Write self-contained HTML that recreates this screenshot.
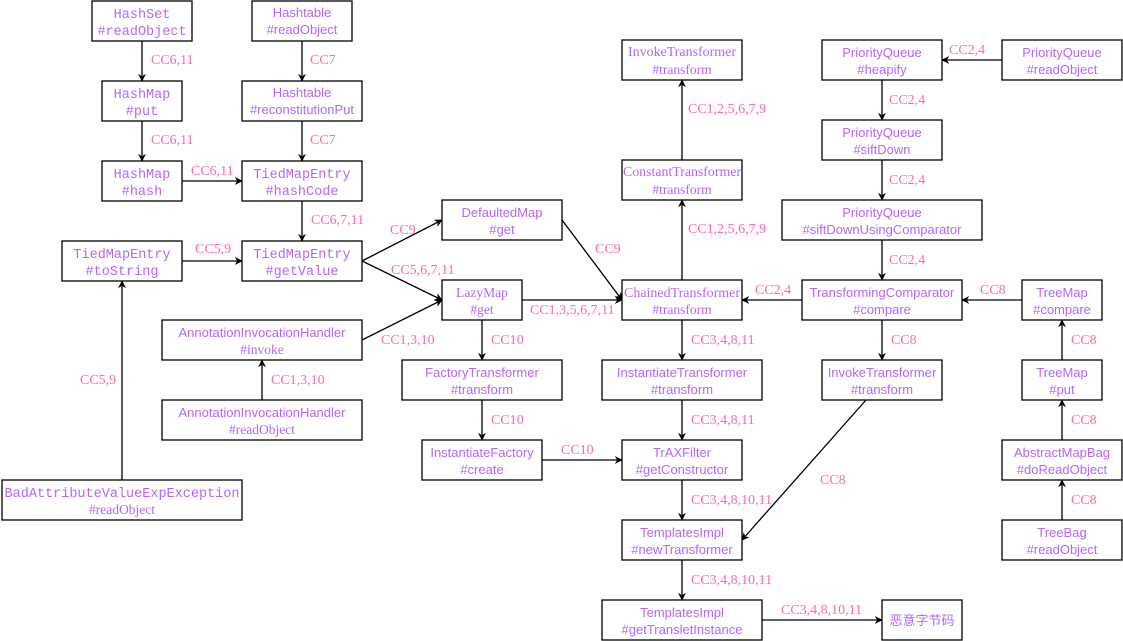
<!DOCTYPE html>
<html><head><meta charset="utf-8"><style>
body{margin:0;background:#fff}
svg{display:block}
.b{fill:#fff;stroke:#000;stroke-width:1.3}
.e{stroke:#000;stroke-width:1.3;fill:none}
.s{font-family:"Liberation Sans",sans-serif;font-size:13px;fill:#B266FF}
.m{font-family:"Liberation Mono",monospace;font-size:13.5px;fill:#B266FF}
.r{font-family:"Liberation Serif",serif;font-size:13.5px;fill:#B266FF}
.l{font-family:"Liberation Serif",serif;font-size:14px;fill:#FF66B3}
</style></head><body>
<svg width="1123" height="641" viewBox="0 0 1123 641" xmlns="http://www.w3.org/2000/svg">
<defs><marker id="a" viewBox="0 0 10 10" refX="9" refY="5" markerWidth="8" markerHeight="8" markerUnits="userSpaceOnUse" orient="auto"><path d="M0,0 L10,5 L0,10 L3,5 z" fill="#000"/></marker></defs>
<g class="e" marker-end="url(#a)">
<line x1="142" y1="41" x2="142" y2="81"/>
<line x1="142" y1="121" x2="142" y2="161"/>
<line x1="302" y1="41" x2="302" y2="81"/>
<line x1="302" y1="121" x2="302" y2="161"/>
<line x1="182" y1="181" x2="242" y2="181"/>
<line x1="302" y1="201" x2="302" y2="241"/>
<line x1="182" y1="261" x2="242" y2="261"/>
<line x1="362" y1="261" x2="442" y2="220"/>
<line x1="362" y1="261" x2="442" y2="300"/>
<line x1="362" y1="340" x2="442" y2="300"/>
<line x1="262" y1="400" x2="262" y2="360"/>
<line x1="122" y1="480" x2="122" y2="281"/>
<line x1="562" y1="220" x2="622" y2="300"/>
<line x1="522" y1="300" x2="622" y2="300"/>
<line x1="482" y1="320" x2="482" y2="360"/>
<line x1="482" y1="400" x2="482" y2="440"/>
<line x1="542" y1="460" x2="622" y2="460"/>
<line x1="682" y1="280" x2="682" y2="200"/>
<line x1="682" y1="160" x2="682" y2="80"/>
<line x1="682" y1="320" x2="682" y2="360"/>
<line x1="682" y1="400" x2="682" y2="440"/>
<line x1="682" y1="480" x2="682" y2="520"/>
<line x1="682" y1="560" x2="682" y2="600"/>
<line x1="762" y1="620" x2="882" y2="620"/>
<line x1="1002" y1="60" x2="942" y2="60"/>
<line x1="882" y1="80" x2="882" y2="120"/>
<line x1="882" y1="160" x2="882" y2="200"/>
<line x1="882" y1="240" x2="882" y2="280"/>
<line x1="802" y1="300" x2="742" y2="300"/>
<line x1="1022" y1="300" x2="962" y2="300"/>
<line x1="882" y1="320" x2="882" y2="360"/>
<line x1="866" y1="400" x2="742" y2="540"/>
<line x1="1062" y1="360" x2="1062" y2="320"/>
<line x1="1062" y1="440" x2="1062" y2="400"/>
<line x1="1062" y1="520" x2="1062" y2="480"/>
</g>
<g>
<rect class="b" x="92" y="1" width="100" height="40"/>
<rect class="b" x="252" y="1" width="100" height="40"/>
<rect class="b" x="102" y="81" width="80" height="40"/>
<rect class="b" x="242" y="81" width="120" height="40"/>
<rect class="b" x="102" y="161" width="80" height="40"/>
<rect class="b" x="242" y="161" width="120" height="40"/>
<rect class="b" x="62" y="241" width="120" height="40"/>
<rect class="b" x="242" y="241" width="120" height="40"/>
<rect class="b" x="442" y="200" width="120" height="40"/>
<rect class="b" x="442" y="280" width="80" height="40"/>
<rect class="b" x="622" y="280" width="120" height="40"/>
<rect class="b" x="402" y="360" width="160" height="40"/>
<rect class="b" x="602" y="360" width="160" height="40"/>
<rect class="b" x="422" y="440" width="120" height="40"/>
<rect class="b" x="622" y="440" width="120" height="40"/>
<rect class="b" x="162" y="320" width="200" height="40"/>
<rect class="b" x="162" y="400" width="200" height="40"/>
<rect class="b" x="2" y="480" width="240" height="40"/>
<rect class="b" x="622" y="40" width="120" height="40"/>
<rect class="b" x="622" y="160" width="120" height="40"/>
<rect class="b" x="822" y="40" width="120" height="40"/>
<rect class="b" x="1002" y="40" width="120" height="40"/>
<rect class="b" x="822" y="120" width="120" height="40"/>
<rect class="b" x="782" y="200" width="200" height="40"/>
<rect class="b" x="802" y="280" width="160" height="40"/>
<rect class="b" x="1022" y="280" width="80" height="40"/>
<rect class="b" x="822" y="360" width="120" height="40"/>
<rect class="b" x="1022" y="360" width="80" height="40"/>
<rect class="b" x="1002" y="440" width="120" height="40"/>
<rect class="b" x="1002" y="520" width="120" height="40"/>
<rect class="b" x="622" y="520" width="120" height="40"/>
<rect class="b" x="602" y="600" width="160" height="40"/>
<rect class="b" x="882" y="600" width="80" height="40"/>
</g>
<g text-anchor="middle">
<text class="m" x="142" y="18">HashSet</text><text class="m" x="142" y="35">#readObject</text>
<text class="s" x="302" y="17">Hashtable</text><text class="s" x="302" y="34">#readObject</text>
<text class="m" x="142" y="98">HashMap</text><text class="m" x="142" y="115">#put</text>
<text class="s" x="302" y="97">Hashtable</text><text class="s" x="302" y="114">#reconstitutionPut</text>
<text class="m" x="142" y="178">HashMap</text><text class="m" x="142" y="195">#hash</text>
<text class="m" x="302" y="178">TiedMapEntry</text><text class="m" x="302" y="195">#hashCode</text>
<text class="m" x="122" y="258">TiedMapEntry</text><text class="m" x="122" y="275">#toString</text>
<text class="m" x="302" y="258">TiedMapEntry</text><text class="m" x="302" y="275">#getValue</text>
<text class="s" x="502" y="217">DefaultedMap</text><text class="s" x="502" y="234">#get</text>
<text class="r" x="482" y="297">LazyMap</text><text class="r" x="482" y="314">#get</text>
<text class="r" x="682" y="297" textLength="116" lengthAdjust="spacingAndGlyphs">ChainedTransformer</text><text class="r" x="682" y="314">#transform</text>
<text class="s" x="482" y="377">FactoryTransformer</text><text class="s" x="482" y="394">#transform</text>
<text class="s" x="682" y="377">InstantiateTransformer</text><text class="s" x="682" y="394">#transform</text>
<text class="s" x="482" y="457">InstantiateFactory</text><text class="s" x="482" y="474">#create</text>
<text class="s" x="682" y="457">TrAXFilter</text><text class="s" x="682" y="474">#getConstructor</text>
<text class="s" x="262" y="337">AnnotationInvocationHandler</text><text class="r" x="262" y="354">#invoke</text>
<text class="s" x="262" y="417">AnnotationInvocationHandler</text><text class="r" x="262" y="434">#readObject</text>
<text class="m" x="122" y="497">BadAttributeValueExpException</text><text class="r" x="122" y="514">#readObject</text>
<text class="r" x="682" y="56" textLength="108" lengthAdjust="spacingAndGlyphs">InvokeTransformer</text><text class="r" x="682" y="74">#transform</text>
<text class="r" x="682" y="176" textLength="118" lengthAdjust="spacingAndGlyphs">ConstantTransformer</text><text class="r" x="682" y="194">#transform</text>
<text class="s" x="882" y="57">PriorityQueue</text><text class="s" x="882" y="74">#heapify</text>
<text class="s" x="1062" y="57">PriorityQueue</text><text class="s" x="1062" y="74">#readObject</text>
<text class="s" x="882" y="137">PriorityQueue</text><text class="s" x="882" y="154">#siftDown</text>
<text class="s" x="882" y="217">PriorityQueue</text><text class="s" x="882" y="234">#siftDownUsingComparator</text>
<text class="s" x="882" y="297">TransformingComparator</text><text class="s" x="882" y="314">#compare</text>
<text class="s" x="1062" y="297">TreeMap</text><text class="s" x="1062" y="314">#compare</text>
<text class="s" x="882" y="377">InvokeTransformer</text><text class="s" x="882" y="394">#transform</text>
<text class="s" x="1062" y="377">TreeMap</text><text class="s" x="1062" y="394">#put</text>
<text class="s" x="1062" y="457">AbstractMapBag</text><text class="s" x="1062" y="474">#doReadObject</text>
<text class="s" x="1062" y="537">TreeBag</text><text class="s" x="1062" y="554">#readObject</text>
<text class="s" x="682" y="537">TemplatesImpl</text><text class="s" x="682" y="554">#newTransformer</text>
<text class="s" x="682" y="617">TemplatesImpl</text><text class="s" x="682" y="634">#getTransletInstance</text>
<text class="s" x="922" y="625" style="font-family:'Liberation Sans','Noto Sans CJK SC',sans-serif">恶意字节码</text>
</g>
<g class="l">
<text x="151" y="64">CC6,11</text>
<text x="151" y="144">CC6,11</text>
<text x="310" y="64">CC7</text>
<text x="310" y="144">CC7</text>
<text x="191" y="175">CC6,11</text>
<text x="311" y="224">CC6,7,11</text>
<text x="195" y="253">CC5,9</text>
<text x="390" y="234">CC9</text>
<text x="391" y="274">CC5,6,7,11</text>
<text x="381" y="344">CC1,3,10</text>
<text x="271" y="384">CC1,3,10</text>
<text x="80" y="384">CC5,9</text>
<text x="595" y="253">CC9</text>
<text x="530" y="314">CC1,3,5,6,7,11</text>
<text x="491" y="344">CC10</text>
<text x="491" y="424">CC10</text>
<text x="561" y="454">CC10</text>
<text x="688" y="233">CC1,2,5,6,7,9</text>
<text x="688" y="113">CC1,2,5,6,7,9</text>
<text x="691" y="344">CC3,4,8,11</text>
<text x="691" y="424">CC3,4,8,11</text>
<text x="691" y="504">CC3,4,8,10,11</text>
<text x="691" y="584">CC3,4,8,10,11</text>
<text x="781" y="614">CC3,4,8,10,11</text>
<text x="949" y="54">CC2,4</text>
<text x="889" y="104">CC2,4</text>
<text x="889" y="184">CC2,4</text>
<text x="889" y="264">CC2,4</text>
<text x="755" y="294">CC2,4</text>
<text x="980" y="294">CC8</text>
<text x="891" y="344">CC8</text>
<text x="820" y="484">CC8</text>
<text x="1071" y="344">CC8</text>
<text x="1071" y="424">CC8</text>
<text x="1071" y="504">CC8</text>
</g>
</svg>
</body></html>
